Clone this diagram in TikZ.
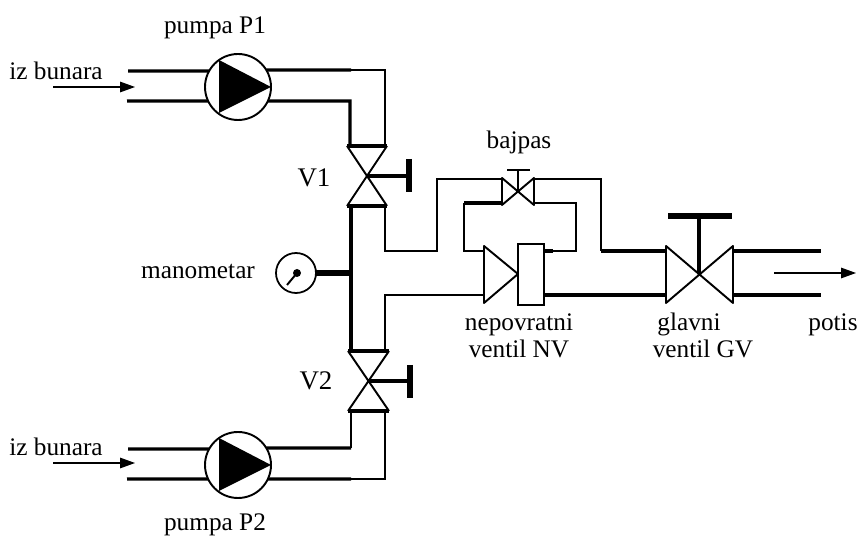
\documentclass[tikz,border=0pt]{standalone}
\usepackage{fontspec}
\setmainfont{Liberation Serif}
\usetikzlibrary{arrows.meta, calc, positioning}
\tikzset{
	pipethick/.style={line width=1.85pt, line join=miter},
	pipethin/.style={line width=0.9pt, line join=miter},
	valveline/.style={line width=1.1pt, line join=round},
	valvebar/.style={line width=1.8pt},
	handlebar/.style={line width=3pt},
	pumpbody/.style={draw, circle, line width=1.1pt, minimum size=66*0.02cm, inner sep=0pt, outer sep=0pt},
	gaugebody/.style={draw, circle, line width=1pt, minimum size=40*0.02cm, inner sep=0pt, outer sep=0pt},
	flow/.style={line width=0.6pt, -{Triangle[length=8.5pt,width=6pt]}},
	lbl/.style={font=\fontsize{14.4}{16}\selectfont, anchor=base, inner sep=0pt},
	biglbl/.style={font=\fontsize{15.3}{17}\selectfont, anchor=base, inner sep=0pt}
}
\begin{document}
\begin{tikzpicture}[x=0.02cm,y=-0.02cm]
	\useasboundingbox (0,0) rectangle (860,536);

	% pumps
	\node[pumpbody] (P1) at (238,87) {};
	\node[pumpbody] (P2) at (238,465) {};
	\fill (219,60) -- (271,87) -- (219,113) -- cycle;
	\fill (219,438) -- (271,465) -- (219,491) -- cycle;

	% pipe ends
	\coordinate (inAt) at (128,71); \coordinate (inAb) at (127,101);
	\coordinate (inBt) at (128,449); \coordinate (inBb) at (127,479);
	\coordinate (outAt) at (821,251); \coordinate (outAb) at (821,295);
	\coordinate (elbAo) at (351,70); \coordinate (elbAi) at (350,101);
	\coordinate (elbBi) at (351,448); \coordinate (elbBo) at (351,479);

	% valve V1
	\coordinate (V1) at (367,176);
	\coordinate (V1tl) at (347,146); \coordinate (V1tr) at (387,146);
	\coordinate (V1bl) at (347,206); \coordinate (V1br) at (387,206);
	\draw[valveline] (V1tl) -- (V1br); \draw[valveline] (V1tr) -- (V1bl);
	\draw[valvebar] (V1tl) -- (V1tr); \draw[valvebar] (V1bl) -- (V1br);
	\coordinate (V1h) at (409,176);
	\draw[line width=2.3pt] (V1) -- (V1h);
	\draw[handlebar] (409,159) -- (409,192);

	% valve V2
	\coordinate (V2) at (368,381);
	\coordinate (V2tl) at (348,351); \coordinate (V2tr) at (389,351);
	\coordinate (V2bl) at (348,411); \coordinate (V2br) at (389,411);
	\draw[valveline] (V2tl) -- (V2br); \draw[valveline] (V2tr) -- (V2bl);
	\draw[valvebar] (V2tl) -- (V2tr); \draw[valvebar] (V2bl) -- (V2br);
	\coordinate (V2h) at (410,381);
	\draw[line width=2.3pt] (V2) -- (V2h);
	\draw[handlebar] (410,365) -- (410,398);

	% bypass valve
	\coordinate (BP) at (518,191);
	\coordinate (BPtl) at (502,178); \coordinate (BPtr) at (534,178);
	\coordinate (BPbl) at (502,205); \coordinate (BPbr) at (534,205);
	\draw[valveline] (BPtl) -- (BPbr) -- (BPtr) -- (BPbl) -- cycle;
	\draw[line width=1.3pt] (BP) -- (518,170);
	\draw[line width=1.3pt] (507,170) -- (530,170);

	% check valve NV
	\node[draw, line width=1.1pt, minimum width=26*0.02cm, minimum height=61*0.02cm, inner sep=0pt, outer sep=0pt] (NVbox) at (531,274.5) {};
	\draw[valveline] (484,246) -- (518,274) -- (484,303) -- cycle;

	% main valve GV
	\coordinate (GV) at (699,274);
	\coordinate (GVtl) at (666,246); \coordinate (GVtr) at (733,246);
	\coordinate (GVbl) at (666,303); \coordinate (GVbr) at (733,303);
	\draw[valveline] (GVtl) -- (GVbr) -- (GVtr) -- (GVbl) -- cycle;
	\draw[line width=2.3pt] (GV) -- (699,216);
	\draw[handlebar] (668,216) -- (732,216);

	% gauge
	\node[gaugebody] (MN) at (296,273) {};
	\fill (297,273) circle (4);
	\draw[line width=1.1pt] (297,273) -- (287,285);
	\draw[line width=3.6pt] (MN) -- (351,273);

	% pipes round P1 and P2
	\draw[pipethick] (inAt) -- (P1.151);
	\draw[pipethick] (inAb) -- (P1.205);
	\draw[pipethick] (P1.31) -- (elbAo);
	\draw[pipethin] (elbAo) -- (385,70) -- (385,146);
	\draw[pipethick] (P1.335) -- (elbAi) -- (elbAi |- V1tl);
	\draw[pipethick] (inBt) -- (P2.151);
	\draw[pipethick] (inBb) -- (P2.205);
	\draw[pipethick] (P2.31) -- (elbBi);
	\draw[pipethin] (elbBi) -- (elbBi |- V2bl);
	\draw[pipethick] (P2.335) -- (elbBo);
	\draw[pipethin] (elbBo) -- (385,479) -- (385,411);

	% header
	\draw[pipethick] (351,206) -- (351,351);
	\draw[pipethin] (385,206) -- (385,251) -- (437,251) -- (437,179) -- (502,179);
	\draw[pipethin] (385,351) -- (385,295) -- (484,295);

	% bypass loop
	\draw[pipethin] (534,179) -- (601,179) -- (601,251);
	\draw[pipethick] (601,251) -- (666,251);
	\draw[pipethick] (502,203) -- (464,203);
	\draw[pipethin] (464,203) -- (464,251) -- (484,251);
	\draw[pipethin] (534,203) -- (576,203) -- (576,251) -- (553,251);
	\draw[pipethick] (553,251) -- (544,251);
	\draw[pipethick] (544,295) -- (666,295);
	\draw[pipethick] (733,251) -- (outAt);
	\draw[pipethick] (733,295) -- (outAb);

	% flow arrows
	\coordinate (fA) at (53,87); \coordinate (fAe) at (135,87);
	\coordinate (fB) at (53,463); \coordinate (fBe) at (135,463);
	\coordinate (fC) at (774,273); \coordinate (fCe) at (856,273);
	\draw[flow] (fA) -- (fAe);
	\draw[flow] (fB) -- (fBe);
	\draw[flow] (fC) -- (fCe);

	% labels
	\node[lbl] (lP1) at (215,34) {pumpa P1};
	\node[lbl] (lP2) at (215,531) {pumpa P2};
	\node[lbl] (lInA) at (56,80) {iz bunara};
	\node[lbl] (lInB) at (56,456) {iz bunara};
	\node[biglbl] (lV1) at (314,187) {V1};
	\node[biglbl] (lV2) at (316,390) {V2};
	\node[lbl] (lMN) at (198,279) {manometar};
	\node[lbl] (lBP) at (519,149) {bajpas};
	\node[lbl] (lNVa) at (519,331) {nepovratni};
	\node[lbl] (lNVb) at (519,358) {ventil NV};
	\node[lbl] (lGVa) at (689,331) {glavni};
	\node[lbl] (lGVb) at (703,358) {ventil GV};
	\node[lbl] (lOut) at (833,331) {potis};
\end{tikzpicture}
\end{document}
